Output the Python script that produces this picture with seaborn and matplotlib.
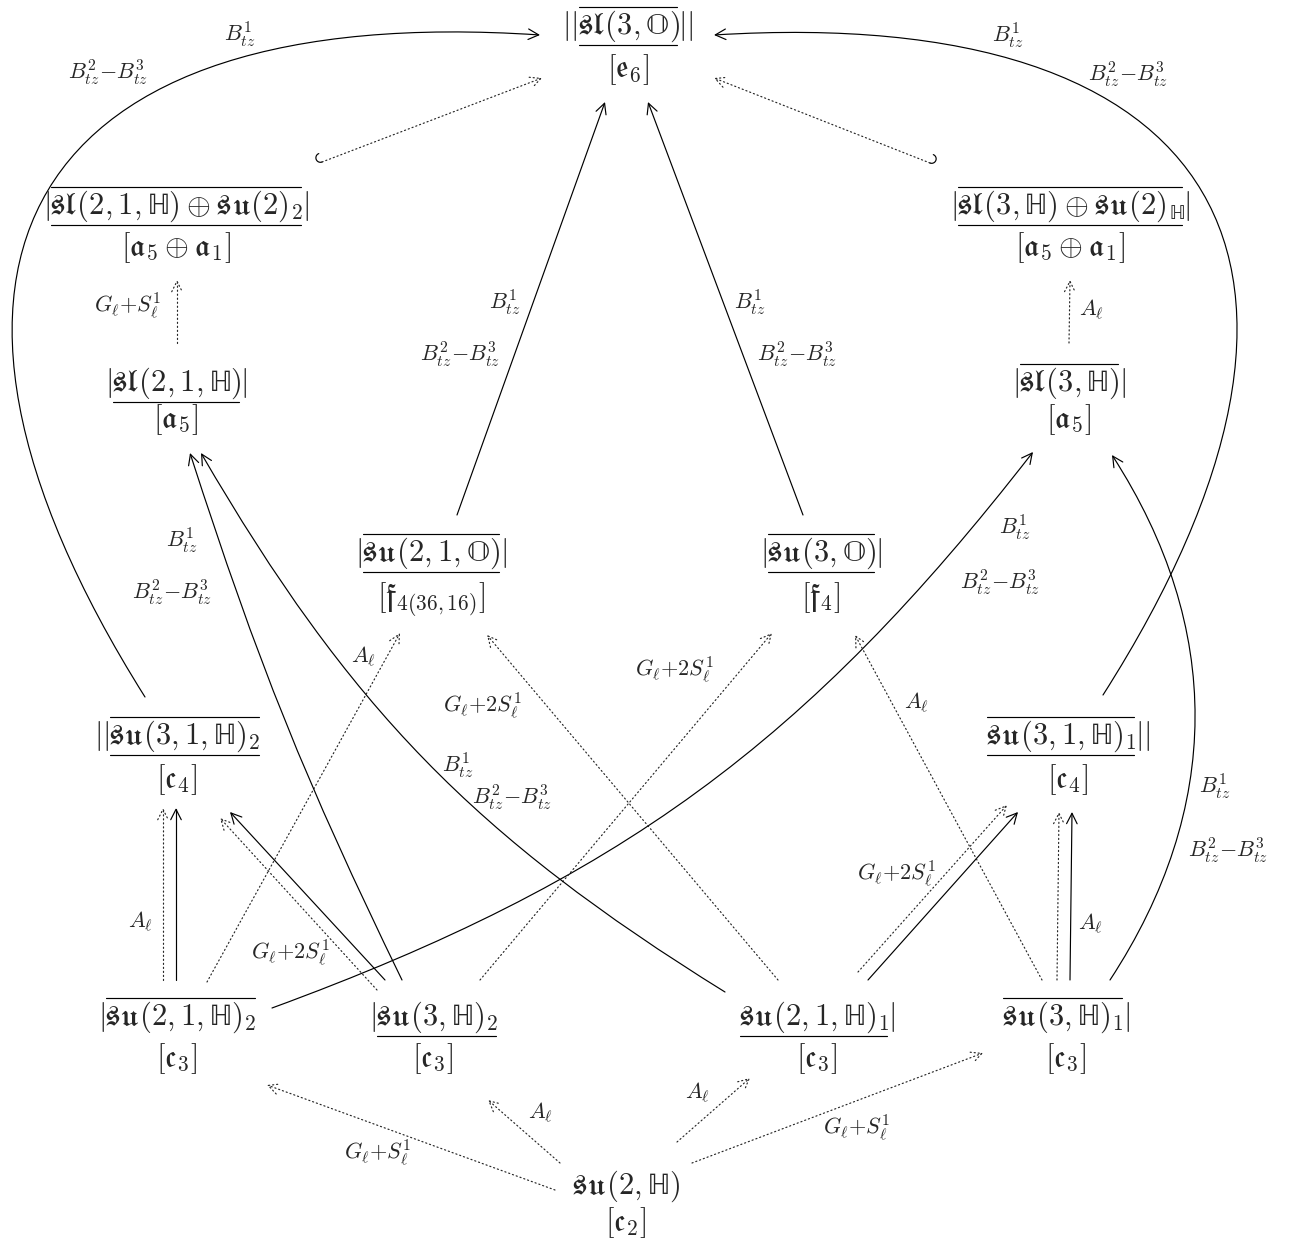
import numpy as np
import matplotlib
matplotlib.use("Agg")
import matplotlib.pyplot as plt
import seaborn as sns
from matplotlib.patches import FancyArrowPatch, ArrowStyle
from matplotlib.path import Path

sns.set_style("white")
plt.rcParams["mathtext.fontset"] = "cm"

HH = r"\mathrm{\mathbb{H}}"
OO = r"\mathrm{\mathbb{O}}"

# ---- nodes of the diagram ----
node_names = ["top", "L1", "R1", "L2", "R2", "M1", "M2", "L3", "R3",
              "B1", "B2", "B3", "B4", "bot"]
node_x = [628, 176, 1070, 176, 1069, 431, 821, 177, 1068, 177, 433, 817, 1066, 626]
node_y = [34, 214, 214, 391, 391, 561, 561, 744, 744, 1025, 1025, 1025, 1025, 1194]
sub_y = [77, 255, 255, 427, 427, 605, 605, 787, 787, 1066, 1066, 1066, 1066, 1230]
node_body = [
    r"\mathfrak{sl}(3," + OO + ")",
    r"\mathfrak{sl}(2,1," + HH + r")\oplus\mathfrak{su}(2)_2",
    r"\mathfrak{sl}(3," + HH + r")\oplus\mathfrak{su}(2)_{" + HH + "}",
    r"\mathfrak{sl}(2,1," + HH + ")",
    r"\mathfrak{sl}(3," + HH + ")",
    r"\mathfrak{su}(2,1," + OO + ")",
    r"\mathfrak{su}(3," + OO + ")",
    r"\mathfrak{su}(3,1," + HH + ")_2",
    r"\mathfrak{su}(3,1," + HH + ")_1",
    r"\mathfrak{su}(2,1," + HH + ")_2",
    r"\mathfrak{su}(3," + HH + ")_2",
    r"\mathfrak{su}(2,1," + HH + ")_1",
    r"\mathfrak{su}(3," + HH + ")_1",
    r"\mathfrak{su}(2," + HH + ")",
]
node_left = ["||", "|", "|", "|", "|", "|", "|", "||", "", "|", "|", "", "", ""]
node_right = ["||", "|", "|", "|", "|", "|", "|", "", "||", "", "", "|", "|", ""]
node_over = [1, 1, 1, 0, 1, 1, 1, 1, 1, 1, 0, 0, 1, 0]
node_under = [1, 1, 1, 1, 0, 1, 1, 1, 1, 0, 1, 1, 0, 0]
node_sub = [
    r"[\mathfrak{e}_6]", r"[\mathfrak{a}_5\oplus\mathfrak{a}_1]",
    r"[\mathfrak{a}_5\oplus\mathfrak{a}_1]", r"[\mathfrak{a}_5]", r"[\mathfrak{a}_5]",
    r"[\mathfrak{f}_{4(36,16)}]", r"[\mathfrak{f}_4]", r"[\mathfrak{c}_4]",
    r"[\mathfrak{c}_4]", r"[\mathfrak{c}_3]", r"[\mathfrak{c}_3]", r"[\mathfrak{c}_3]",
    r"[\mathfrak{c}_3]", r"[\mathfrak{c}_2]",
]

# ---- edges: source, target, anchor offsets, style, bend ----
edge_src = ["bot", "bot", "bot", "bot", "B1", "B1", "B1", "B1", "B2", "B2", "B2", "B2",
            "B3", "B3", "B3", "B3", "B4", "B4", "B4", "B4", "L3", "R3", "L2", "R2",
            "M1", "M2", "L1", "R1"]
edge_dst = ["B1", "B2", "B3", "B4", "L3", "L3", "M1", "R2", "L3", "L3", "L2", "M2",
            "L2", "M1", "R3", "R3", "M2", "R3", "R3", "R2", "top", "top", "L1", "R1",
            "top", "top", "top", "top"]
edge_off_a = [(-71, -4), (-66, -31), (51, -52), (66, -31), (-14, -45), (-1, -45),
              (30, -43), (95, -17), (-56, -35), (-48, -45), (-31, -45), (47, -45),
              (-92, -33), (-39, -45), (41, -53), (51, -45), (-24, -45), (-9, -45),
              (4, -45), (44, -45), (-32, -47), (35, -49), (1, -48), (0, -48),
              (26, -46), (-18, -46), (146, -52), (-140, -51)]
edge_off_b = [(90, 60), (55, 75), (-67, 53), (-83, 28), (-14, 64), (-1, 64),
              (-31, 72), (-36, 61), (43, 74), (53, 68), (14, 62), (-49, 72),
              (25, 62), (56, 74), (-61, 61), (-50, 68), (34, 74), (-9, 68),
              (4, 68), (43, 64), (-88, 1), (86, 1), (1, 66), (0, 66),
              (-23, 68), (20, 68), (-86, 44), (86, 44)]
edge_dotted = [1, 1, 1, 1, 1, 0, 1, 0, 1, 0, 0, 1, 0, 1, 1, 0, 1, 1, 0, 0, 0, 0,
               1, 1, 0, 0, 1, 1]
edge_bend = [0, 0, 0, 0, 0, 0, 0, -16, 0, 0, 4, 0, 14, 0, 0, 0, 0, 0, 0, -33,
             63, -63, 0, 0, 0, 0, 0, 0]
edge_loose = [1] * 20 + [1.7, 1.7] + [1] * 6
edge_hook = [0] * 26 + [1, 1]

# ---- edge labels ----
B1 = r"$B^1_{tz}$"
B23 = r"$B^2_{tz}{-}B^3_{tz}$"
GS = r"$G_\ell{+}S^1_\ell$"
G2S = r"$G_\ell{+}2S^1_\ell$"
AL = r"$A_\ell$"
label_text = [GS, AL, AL, GS, AL, AL, B1, B23, G2S, B1, B23, G2S, B1, B23, G2S,
              G2S, AL, AL, B1, B23, B1, B23, B1, B23, GS, AL, B1, B23, B1, B23]
label_x = [378, 540, 697, 857, 140, 363, 1015, 1000, 290, 182, 172, 674, 458, 512,
           482, 896, 916, 1090, 1215, 1228, 240, 108, 1008, 1128, 128, 1091,
           505, 460, 750, 797]
label_y = [1153, 1113, 1093, 1128, 922, 657, 527, 582, 953, 540, 592, 670, 765, 797,
           706, 874, 703, 924, 786, 850, 34, 72, 35, 74, 306, 310,
           302, 354, 302, 354]

NODE_FS = 22
LABEL_FS = 16
LW = 0.85

fig = plt.figure(figsize=(12.89, 12.43), dpi=100)
ax = fig.add_axes([0, 0, 1, 1])
ax.set_xlim(0, 1289)
ax.set_ylim(1243, 0)
ax.axis("off")
renderer = fig.canvas.get_renderer()
inv = ax.transData.inverted()


def extent(t):
    bb = t.get_window_extent(renderer=renderer)
    (x0, y0), (x1, y1) = inv.transform([[bb.x0, bb.y0], [bb.x1, bb.y1]])
    return min(x0, x1), max(x0, x1), min(y0, y1), max(y0, y1)


# draw nodes
for i in range(len(node_x)):
    x, y = node_x[i], node_y[i]
    body = ax.text(x, y, "$" + node_body[i] + "$", fontsize=NODE_FS,
                   ha="center", va="baseline")
    lt = rt = None
    wl = wr = 0
    if node_left[i]:
        lt = ax.text(x, y, "$" + node_left[i] + "$", fontsize=NODE_FS, ha="right", va="baseline")
        e = extent(lt)
        wl = e[1] - e[0]
    if node_right[i]:
        rt = ax.text(x, y, "$" + node_right[i] + "$", fontsize=NODE_FS, ha="left", va="baseline")
        e = extent(rt)
        wr = e[1] - e[0]
    body.set_x(x + (wl - wr) / 2)
    bx0, bx1, by0, by1 = extent(body)
    if lt is not None:
        lt.set_x(bx0 + 1)
    if rt is not None:
        rt.set_x(bx1 - 1)
    if node_over[i]:
        ax.plot([bx0 + 2, bx1 - 2], [by0 - 2, by0 - 2], color="black", lw=LW)
    if node_under[i]:
        ax.plot([bx0 + 2, bx1 - 2], [by1 + 1, by1 + 1], color="black", lw=LW)
    ax.text(x, sub_y[i], "$" + node_sub[i] + "$", fontsize=NODE_FS,
            ha="center", va="baseline")


def rot(v, deg):
    t = np.radians(deg)
    return np.array([v[0] * np.cos(t) + v[1] * np.sin(t),
                     -v[0] * np.sin(t) + v[1] * np.cos(t)])


idx = {n: k for k, n in enumerate(node_names)}
head = ArrowStyle("->", head_length=0.75, head_width=0.38)
for k in range(len(edge_src)):
    s, d = idx[edge_src[k]], idx[edge_dst[k]]
    p0 = np.array([node_x[s] + edge_off_a[k][0], node_y[s] + edge_off_a[k][1]], float)
    p3 = np.array([node_x[d] + edge_off_b[k][0], node_y[d] + edge_off_b[k][1]], float)
    L = np.linalg.norm(p3 - p0)
    u = (p3 - p0) / L
    if edge_bend[k] == 0:
        path = Path([p0, p3], [Path.MOVETO, Path.LINETO])
        u0 = u
    else:
        dist = 0.3915 * L * edge_loose[k]
        u0 = rot(u, edge_bend[k])
        u1 = rot(u, -edge_bend[k])
        c1 = p0 + dist * u0
        c2 = p3 - dist * u1
        path = Path([p0, c1, c2, p3], [Path.MOVETO, Path.CURVE4, Path.CURVE4, Path.CURVE4])
    ls = (0, (1, 2.4)) if edge_dotted[k] else "-"
    col = "0.15" if edge_dotted[k] else "black"
    arr = FancyArrowPatch(path=path, arrowstyle=head, mutation_scale=10,
                          lw=LW, linestyle=ls, color=col)
    ax.add_patch(arr)
    if edge_hook[k]:
        n = np.array([u0[1], -u0[0]])
        if n[1] > 0:
            n = -n
        r = 4.5
        c = p0 + r * n
        t = np.linspace(0, np.pi, 30)
        hx = c[0] + r * (-n[0] * np.cos(t) - u0[0] * np.sin(t))
        hy = c[1] + r * (-n[1] * np.cos(t) - u0[1] * np.sin(t))
        ax.plot(hx, hy, color="black", lw=LW)

for k in range(len(label_text)):
    ax.text(label_x[k], label_y[k], label_text[k], fontsize=LABEL_FS,
            ha="center", va="center")

fig.savefig("out.png", dpi=100)
